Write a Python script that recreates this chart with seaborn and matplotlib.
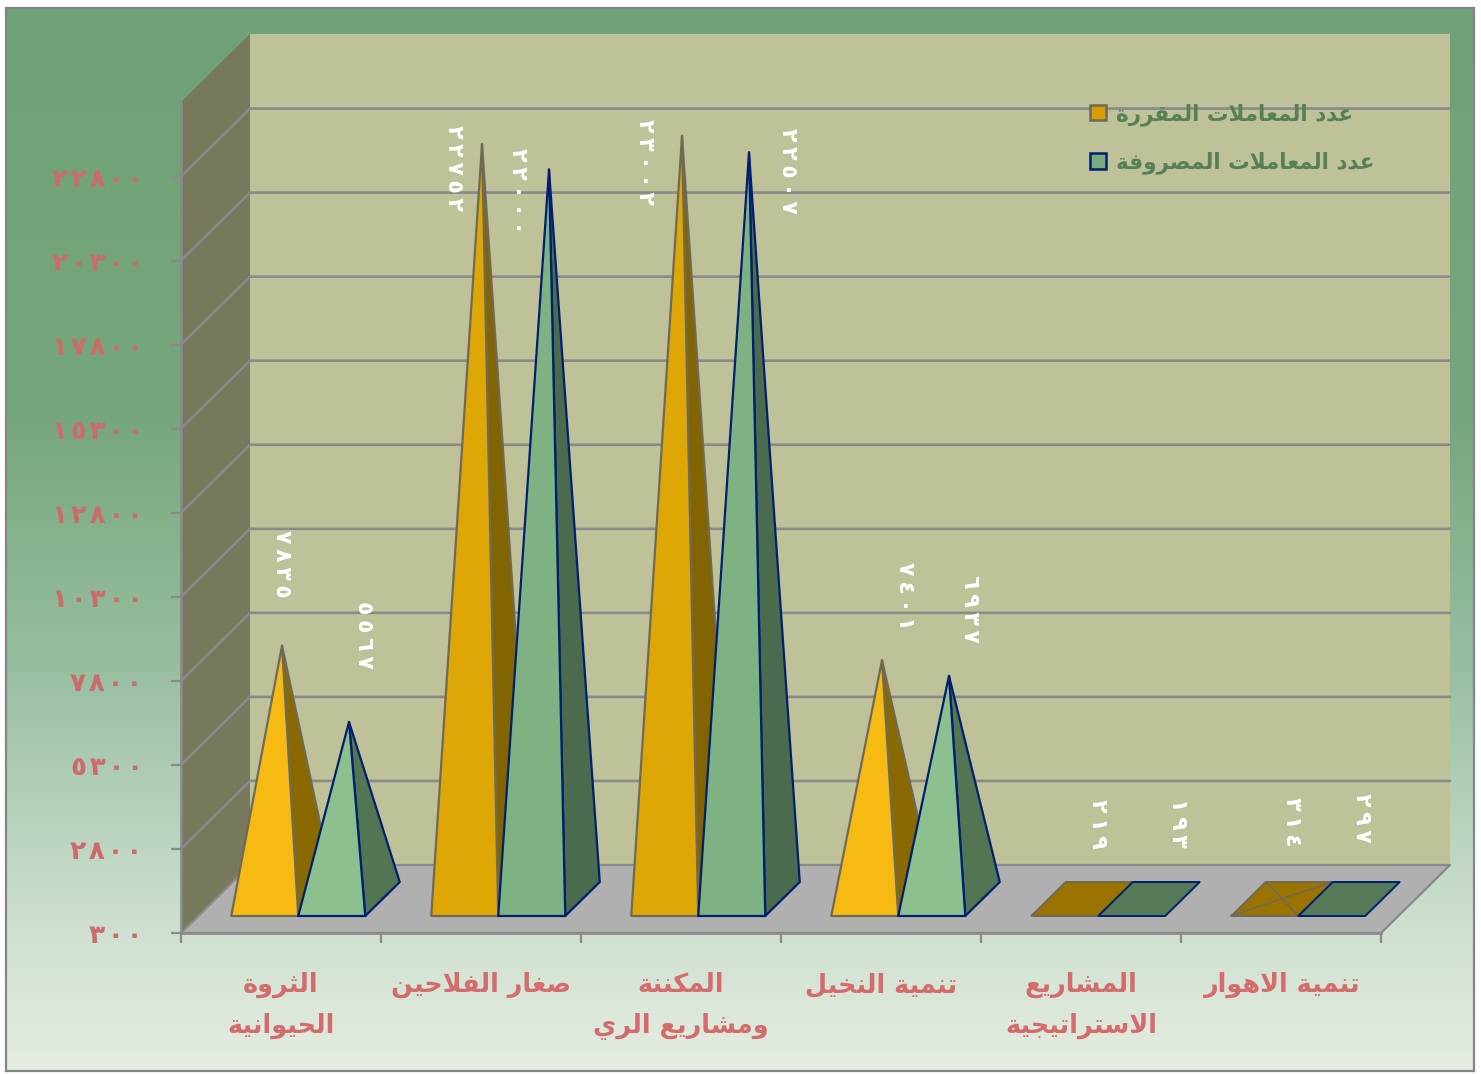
import numpy as np
import pandas as pd
import matplotlib
matplotlib.use("Agg")
import matplotlib.pyplot as plt
from matplotlib.patches import Polygon, Patch
import seaborn as sns

categories = ["الثروة\nالحيوانية", "صغار الفلاحين", "المكننة\nومشاريع الري",
              "تنمية النخيل", "المشاريع\nالاستراتيجية", "تنمية الاهوار"]
series_names = ["عدد المعاملات المقررة", "عدد المعاملات المصروفة"]
approved = [7835, 22752, 23002, 7401, 219, 314]
spent = [5567, 22000, 22507, 6937, 193, 297]
y_ticks = [300, 2800, 5300, 7800, 10300, 12800, 15300, 17800, 20300, 22800]

# hand-placed label offsets from each apex, in pixels (dx, dy-up)
label_offsets = [[(0, 82), (-28, -24), (-37, -26), (23, 64), (16, 75), (10, 77)],
                 [(15, 87), (-31, -22), (39, -19), (21, 67), (29, 76), (13, 81)]]

# ---- Arabic shaping helpers (matplotlib has no text shaper) ----
_two = {"ا": 0xFE8D, "ة": 0xFE93, "د": 0xFEA9, "ذ": 0xFEAB, "ر": 0xFEAD, "ز": 0xFEAF, "و": 0xFEED}
_four = {"ب": 0xFE8F, "ت": 0xFE95, "ث": 0xFE99, "ج": 0xFE9D, "ح": 0xFEA1, "خ": 0xFEA5,
         "س": 0xFEB1, "ش": 0xFEB5, "ص": 0xFEB9, "ض": 0xFEBD, "ط": 0xFEC1, "ظ": 0xFEC5,
         "ع": 0xFEC9, "غ": 0xFECD, "ف": 0xFED1, "ق": 0xFED5, "ك": 0xFED9, "ل": 0xFEDD,
         "م": 0xFEE1, "ن": 0xFEE5, "ه": 0xFEE9, "ي": 0xFEF1}


def shape_line(s):
    out, i = [], 0
    prev_joins = False
    while i < len(s):
        c = s[i]
        if c == "ل" and i + 1 < len(s) and s[i + 1] == "ا":
            out.append(chr(0xFEFC if prev_joins else 0xFEFB))
            prev_joins = False
            i += 2
            continue
        nxt = s[i + 1] if i + 1 < len(s) else " "
        next_letter = nxt in _two or nxt in _four
        if c in _two:
            out.append(chr(_two[c] + (1 if prev_joins else 0)))
            prev_joins = False
        elif c in _four:
            base = _four[c]
            if prev_joins and next_letter:
                out.append(chr(base + 3))
            elif prev_joins:
                out.append(chr(base + 1))
            elif next_letter:
                out.append(chr(base + 2))
            else:
                out.append(chr(base))
            prev_joins = next_letter
        else:
            out.append(c)
            prev_joins = False
        i += 1
    return "".join(reversed(out))


def shape(s):
    return "\n".join(shape_line(p) for p in s.split("\n"))


def arabic_digits(n, sep=""):
    return sep.join(chr(0x0660 + int(d)) for d in str(int(round(n))))


sns.set_style("white")
plt.rcParams["font.family"] = ["DejaVu Sans"]
plt.rcParams["font.weight"] = "bold"

W, H = 1481, 1074
fig = plt.figure(figsize=(W / 100, H / 100), dpi=100, facecolor="white")


def px_axes(x0, y0, x1, y1, **kw):
    return fig.add_axes([x0 / W, 1 - y1 / H, (x1 - x0) / W, (y1 - y0) / H], **kw)


# ---- gradient chart area ----
bg = px_axes(6, 8, 1474, 1071)
stops_pos = [0.0, 0.38, 0.62, 0.86, 1.0]
stops_rgb = np.array([[111, 162, 119], [118, 166, 125], [152, 190, 160], [205, 223, 207], [228, 237, 224]]) / 255
t = np.linspace(0, 1, 400)
grad = np.stack([np.interp(t, stops_pos, stops_rgb[:, k]) for k in range(3)], axis=1)[:, None, :]
bg.imshow(grad, aspect="auto", extent=(0, 1, 0, 1))
bg.set_xticks([])
bg.set_yticks([])
for sp in bg.spines.values():
    sp.set_color("#858585")
    sp.set_linewidth(1.6)

# ---- main axes ----
X0, X1, Y0, Y1 = 181, 1381, 933, 102
UNIT = 84.05 / 2500  # px per value unit
ax = px_axes(X0, Y1, X1, Y0, facecolor="none")

df = pd.DataFrame({
    "category": categories * 2,
    "series": [series_names[0]] * 6 + [series_names[1]] * 6,
    "value": approved + spent,
})
sns.barplot(data=df, x="category", y="value", hue="series", order=categories, hue_order=series_names,
            width=0.67, gap=0, errorbar=None, legend=False, ax=ax)
ymin = y_ticks[0]
ymax = ymin + (Y0 - Y1) / UNIT
ax.set_xlim(-0.5, 5.5)
ax.set_ylim(ymin, ymax)
DX = 69 / 200
DY = 68 / UNIT
xl, xr = -0.5, 5.5


def P(x, v, d):
    return (x + d * DX, v + d * DY)


def add_poly(pts, fc, ec="none", lw=0.0, z=1):
    ax.add_patch(Polygon(pts, closed=True, facecolor=fc, edgecolor=ec, linewidth=lw,
                         clip_on=False, zorder=z, joinstyle="round"))


GRID = "#8a8a8a"
# walls and floor
add_poly([P(xl, ymin, 1), P(xr, ymin, 1), P(xr, ymax, 1), P(xl, ymax, 1)], "#bfc198", z=1)
add_poly([P(xl, ymin, 0), P(xl, ymin, 1), P(xl, ymax, 1), P(xl, ymax, 0)], "#78785c", z=1)
for v in y_ticks[1:]:
    ax.plot([xl, P(xl, v, 1)[0], P(xr, v, 1)[0]], [v, P(xl, v, 1)[1], P(xr, v, 1)[1]],
            color=GRID, lw=1.9, clip_on=False, zorder=1.2, solid_joinstyle="miter")
add_poly([P(xl, ymin, 0), P(xr, ymin, 0), P(xr, ymin, 1), P(xl, ymin, 1)], "#b0b0b0", ec=GRID, lw=1.6, z=1.5)

# pyramids from the seaborn bars
styles = [
    {"edge": "#6f6a55", "front_low": "#f6ba13", "front_high": "#dfa706", "side_low": "#8a6a00",
     "side_high": "#826400", "flat": "#9b7300"},
    {"edge": "#00206e", "front_low": "#8cc08f", "front_high": "#7fb283", "side_low": "#527553",
     "side_high": "#4a6b4d", "flat": "#567a58"},
]
label_color = "white"
z = 3.0
for c in range(6):
    for h, cont in enumerate(ax.containers):
        bar = cont[c]
        st = styles[h]
        l, r = bar.get_x(), bar.get_x() + bar.get_width()
        m = (l + r) / 2
        v = bar.get_height()
        bar.set_visible(False)
        top = max(v, ymin)
        apex = P(m, top, 0.5)
        corners = [P(l, ymin, .25), P(r, ymin, .25), P(r, ymin, .75), P(l, ymin, .75)]
        if v - ymin < DY / 4:
            add_poly(corners, st["flat"], ec=st["edge"], lw=1.4, z=z)
            if v > ymin:
                for pt in corners:
                    ax.plot([pt[0], apex[0]], [pt[1], apex[1]], color=st["edge"], lw=1.2,
                            clip_on=False, zorder=z + .1)
        else:
            tone = "high" if v > 15000 else "low"
            add_poly([corners[1], corners[2], apex], st["side_" + tone], ec=st["edge"], lw=1.6, z=z)
            add_poly([corners[0], corners[1], apex], st["front_" + tone], ec=st["edge"], lw=1.6, z=z + .1)
        z += 0.2
        dx, dy = label_offsets[h][c]
        ax.annotate(arabic_digits(v, "\u2009"), xy=apex, xytext=(dx, dy), textcoords="offset pixels",
                    rotation=-90, ha="center", va="center", color=label_color, fontsize=16,
                    annotation_clip=False, zorder=20)

# axes furniture
for name in ("top", "right"):
    ax.spines[name].set_visible(False)
for name in ("left", "bottom"):
    ax.spines[name].set_color(GRID)
    ax.spines[name].set_linewidth(1.9)
    ax.spines[name].set_zorder(2)
ax.set_xlabel("")
ax.set_ylabel("")
ax.set_yticks(y_ticks)
ax.set_yticklabels([arabic_digits(v, "\u200a") for v in y_ticks], color="#cc6b6b", fontsize=19)
ax.tick_params(axis="y", length=7.5, width=1.6, color=GRID, pad=20, left=True)
ax.set_xticks(range(6))
ax.set_xticklabels([shape(s) for s in categories], color="#d46c6c", fontsize=18.4, linespacing=1.72, va="top")
ax.set_xticks(np.arange(-0.5, 6, 1), minor=True)
ax.tick_params(axis="x", which="major", length=0, pad=28, bottom=False)
ax.tick_params(axis="x", which="minor", length=7.5, width=1.6, color=GRID, bottom=True)

handles = [Patch(facecolor="#d89e00", edgecolor="#6f6a55", linewidth=1.8),
           Patch(facecolor="#79ab7f", edgecolor="#00206e", linewidth=1.8)]
leg = ax.legend(handles, [shape(s) for s in series_names], frameon=False, loc="upper left",
                bbox_to_anchor=((1089 - X0 + 1) / (X1 - X0), (Y0 - 103) / (Y0 - Y1)),
                handlelength=0.75, handleheight=0.75, handletextpad=0.47, labelspacing=1.19,
                borderpad=0, borderaxespad=0, fontsize=15.5, labelcolor="#568058")
leg.set_zorder(30)

fig.savefig("out.png", dpi=100, facecolor="white")
